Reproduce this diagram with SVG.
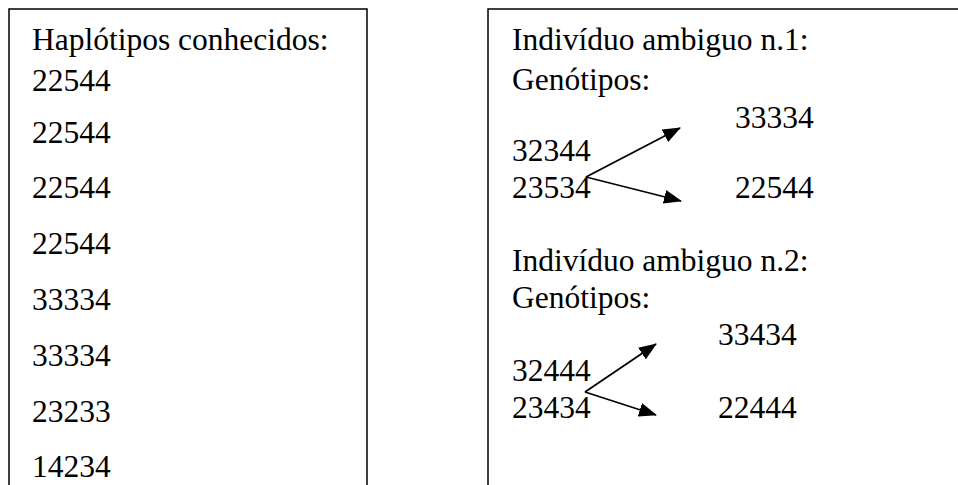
<svg xmlns="http://www.w3.org/2000/svg" width="958" height="485" viewBox="0 0 958 485">
  <style>
    .box { fill: none; stroke: #000; stroke-width: 1.5; }
    .t { font-family: "Liberation Serif", "Times New Roman", serif; font-size: 31.5px; fill: #000; }
    .arrow { stroke: #000; stroke-width: 1.8; fill: none; marker-end: url(#head); }
  </style>
  <defs>
    <marker id="head" markerWidth="18" markerHeight="14" viewBox="0 0 18 14" refX="17" refY="7" orient="auto" markerUnits="userSpaceOnUse">
      <path d="M0,0 L18,7 L0,14 Z" fill="#000"/>
    </marker>
  </defs>

  <!-- Known haplotypes panel -->
  <g id="known-haplotypes">
    <path class="box" d="M9,490 V9 H367 V490"/>
    <text class="t" x="32" y="50">Haplótipos conhecidos:</text>
    <text class="t" x="32" y="91">22544</text>
    <text class="t" x="32" y="143">22544</text>
    <text class="t" x="32" y="198">22544</text>
    <text class="t" x="32" y="254">22544</text>
    <text class="t" x="32" y="310">33334</text>
    <text class="t" x="32" y="366">33334</text>
    <text class="t" x="32" y="422">23233</text>
    <text class="t" x="32" y="477">14234</text>
  </g>

  <!-- Ambiguous individuals panel -->
  <g id="ambiguous-panel">
    <path class="box" d="M488,490 V9 H970"/>
  </g>

  <g id="individual-1">
    <text class="t" x="512" y="50">Indivíduo ambiguo n.1:</text>
    <text class="t" x="512" y="90">Genótipos:</text>
    <text class="t" x="735" y="128">33334</text>
    <text class="t" x="512" y="161">32344</text>
    <text class="t" x="512" y="198">23534</text>
    <text class="t" x="735" y="198">22544</text>
  </g>

  <g id="individual-2">
    <text class="t" x="512" y="271">Indivíduo ambiguo n.2:</text>
    <text class="t" x="512" y="308">Genótipos:</text>
    <text class="t" x="718" y="345">33434</text>
    <text class="t" x="512" y="381">32444</text>
    <text class="t" x="512" y="418">23434</text>
    <text class="t" x="718" y="418">22444</text>
  </g>

  <!-- Connectors -->
  <g id="connectors">
    <line class="arrow" x1="586" y1="177" x2="680" y2="128"/>
    <line class="arrow" x1="586" y1="177" x2="681" y2="201"/>
    <line class="arrow" x1="585" y1="392" x2="656" y2="344"/>
    <line class="arrow" x1="585" y1="392" x2="656" y2="415"/>
  </g>
</svg>
